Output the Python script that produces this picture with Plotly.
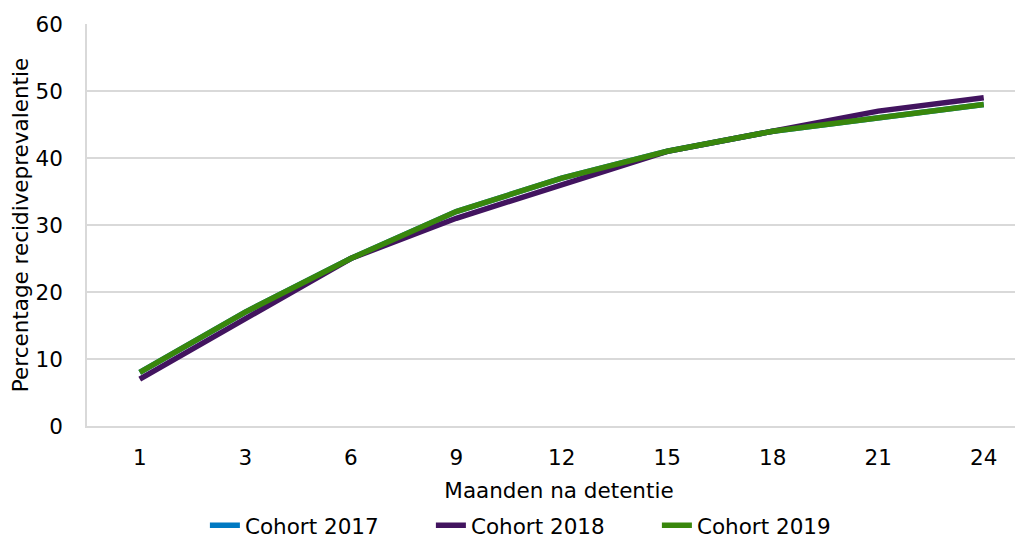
import plotly.graph_objects as go

months = ["1", "3", "6", "9", "12", "15", "18", "21", "24"]
cohort_2017 = [8, 17, 25, 32, 37, 41, 44, 46, 48]
cohort_2018 = [7, 16, 25, 31, 36, 41, 44, 47, 49]
cohort_2019 = [8, 17, 25, 32, 37, 41, 44, 46, 48]

series = [
    ("Cohort 2017", cohort_2017, "#0079C2"),
    ("Cohort 2018", cohort_2018, "#42145F"),
    ("Cohort 2019", cohort_2019, "#39870C"),
]

font = "DejaVu Sans, Verdana, sans-serif"
fs = 21.5
fig = go.Figure()
for name, vals, col in series:
    fig.add_trace(go.Scatter(x=months, y=vals, name=name, mode="lines",
                             line=dict(color=col, width=5.5)))

fig.update_layout(
    width=1023, height=538,
    margin=dict(l=79, r=0, t=16, b=102),
    paper_bgcolor="white", plot_bgcolor="white",
    font=dict(family=font, size=fs, color="#000000"),
    showlegend=True,
    legend=dict(orientation="h", x=0.484, xanchor="center", y=-0.196, yanchor="top",
                font=dict(size=fs), tracegroupgap=0,
                entrywidth=181, entrywidthmode="pixels"),
    xaxis=dict(type="category", range=[-0.5, 8.448], showgrid=False, automargin=False,
               showline=True, linecolor="#d9d9d9", linewidth=1.5,
               ticks="", tickfont=dict(size=fs), ticklabelstandoff=11,
               title=dict(text="Maanden na detentie", font=dict(size=fs), standoff=14)),
    yaxis=dict(range=[0, 60], dtick=10, showgrid=True, gridcolor="#d9d9d9", gridwidth=1.5,
               automargin=False,
               showline=True, linecolor="#d9d9d9", linewidth=1.5, zeroline=False,
               ticks="", tickfont=dict(size=fs), ticklabelstandoff=18,
               title=dict(text="Percentage recidiveprevalentie", font=dict(size=fs), standoff=4)),
)
fig.write_html("out.html")
